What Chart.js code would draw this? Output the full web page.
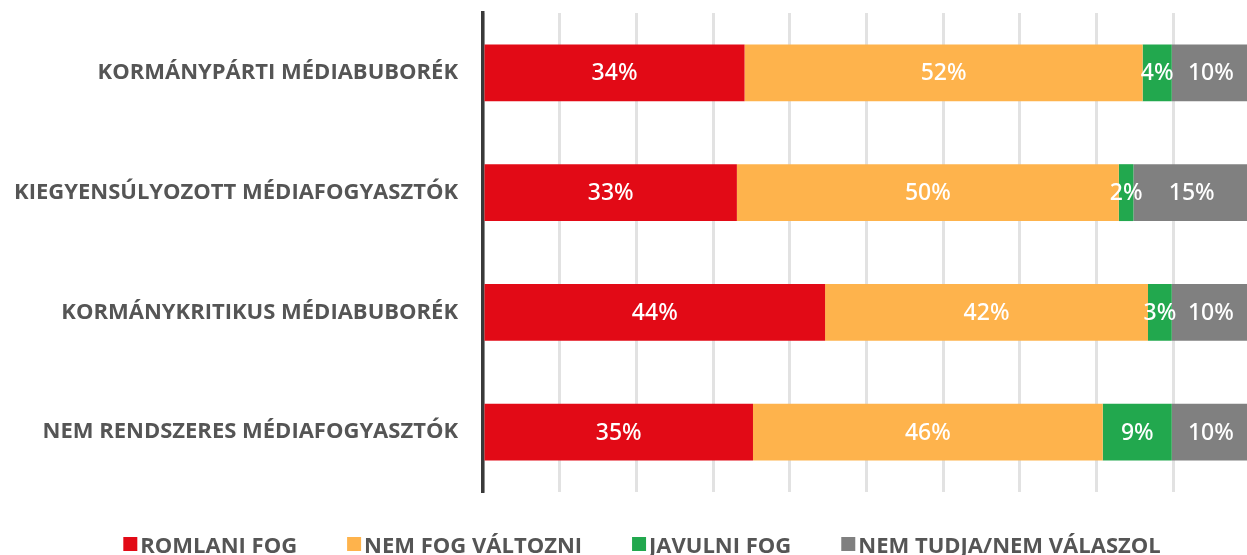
<!DOCTYPE html>
<html>
<head>
<meta charset="utf-8">
<script src="https://cdn.jsdelivr.net/npm/chart.js@4.4.1/dist/chart.umd.min.js"></script>
<style>
  html, body { margin: 0; padding: 0; background: #ffffff; overflow: hidden; }
  #wrap { width: 1250px; height: 555px; }
</style>
</head>
<body>
<div id="wrap"><canvas id="c" width="1250" height="555"></canvas></div>
<script>
// ---- data ----
const categories = [
  "KORMÁNYPÁRTI MÉDIABUBORÉK",
  "KIEGYENSÚLYOZOTT MÉDIAFOGYASZTÓK",
  "KORMÁNYKRITIKUS MÉDIABUBORÉK",
  "NEM RENDSZERES MÉDIAFOGYASZTÓK"
];
const seriesNames = ["ROMLANI FOG", "NEM FOG VÁLTOZNI", "JAVULNI FOG", "NEM TUDJA/NEM VÁLASZOL"];
const romlani      = [34.1, 33.1, 44.6, 35.2];
const nemValtozik  = [51.9, 49.8, 42.1, 45.6];
const javulni      = [3.8, 1.9, 3.1, 9.0];
const nemTudja     = [10.2, 15.2, 10.2, 10.2];
const romlaniLbl     = ["34%", "33%", "44%", "35%"];
const nemValtozikLbl = ["52%", "50%", "42%", "46%"];
const javulniLbl     = ["4%", "2%", "3%", "9%"];
const nemTudjaLbl    = ["10%", "15%", "10%", "10%"];
const xTicks = [0, 10, 20, 30, 40, 50, 60, 70, 80, 90, 100];

const colors = ["#e20a16", "#feb34c", "#22a84e", "#808080"];
const seriesValues = [romlani, nemValtozik, javulni, nemTudja];
const seriesLabels = [romlaniLbl, nemValtozikLbl, javulniLbl, nemTudjaLbl];

const datasets = seriesNames.map((name, i) => ({
  label: name,
  data: seriesValues[i],
  valueLabels: seriesLabels[i],
  backgroundColor: colors[i],
  borderWidth: 0,
  barPercentage: 0.475,
  categoryPercentage: 1.0
}));

const valueLabelPlugin = {
  id: 'valueLabels',
  afterDatasetsDraw(chart) {
    const ctx = chart.ctx;
    ctx.save();
    ctx.fillStyle = '#ffffff';
    ctx.font = '500 23px "Noto Sans", "Open Sans"';
    ctx.textAlign = 'center';
    ctx.textBaseline = 'middle';
    chart.data.datasets.forEach((ds, di) => {
      const meta = chart.getDatasetMeta(di);
      meta.data.forEach((bar, i) => {
        const cx = (bar.x + bar.base) / 2;
        ctx.fillText(ds.valueLabels[i], cx, bar.y + 1);
      });
    });
    ctx.restore();
  }
};

const legendPlugin = {
  id: 'customLegend',
  afterDraw(chart) {
    const ctx = chart.ctx;
    ctx.save();
    ctx.font = '700 22px "Open Sans"';
    ctx.textBaseline = 'alphabetic';
    ctx.textAlign = 'left';
    const box = 14, gap = 3, spacing = 50;
    const items = chart.data.datasets.map(ds => ({ text: ds.label, color: ds.backgroundColor, w: ctx.measureText(ds.label).width }));
    const total = items.reduce((s, it) => s + box + gap + it.w, 0) + spacing * (items.length - 1);
    let x = 642 - total / 2;
    const baseline = chart.chartArea.bottom + 61;
    items.forEach(it => {
      ctx.fillStyle = it.color;
      ctx.fillRect(x, baseline - 16, box, box);
      ctx.fillStyle = '#555555';
      ctx.fillText(it.text, x + box + gap, baseline);
      x += box + gap + it.w + spacing;
    });
    ctx.restore();
  }
};

new Chart(document.getElementById('c'), {
  type: 'bar',
  data: { labels: categories, datasets },
  options: {
    indexAxis: 'y',
    responsive: false,
    animation: false,
    layout: { padding: { top: 13, bottom: 63, left: 0, right: 0 } },
    plugins: { legend: { display: false }, tooltip: { enabled: false } },
    scales: {
      x: {
        stacked: true,
        min: 0, max: 100,
        afterBuildTicks(s) { s.ticks = xTicks.map(v => ({ value: v })); },
        afterFit(s) { s.height = 0; s.paddingLeft = 0; s.paddingRight = 0; },
        ticks: { display: false },
        grid: { color: '#e2e2e2', lineWidth: 3, drawTicks: false },
        border: { display: false }
      },
      y: {
        stacked: true,
        z: 1,
        afterFit(s) { s.width = 483; s.paddingTop = 0; s.paddingBottom = 0; },
        ticks: {
          color: '#555555',
          font: { family: '"Open Sans"', size: 22, weight: '700' },
          padding: 25
        },
        grid: { display: false, drawTicks: false },
        border: { display: true, color: '#3a3a3a', width: 3.5 }
      }
    }
  },
  plugins: [valueLabelPlugin, legendPlugin]
});
</script>
</body>
</html>
